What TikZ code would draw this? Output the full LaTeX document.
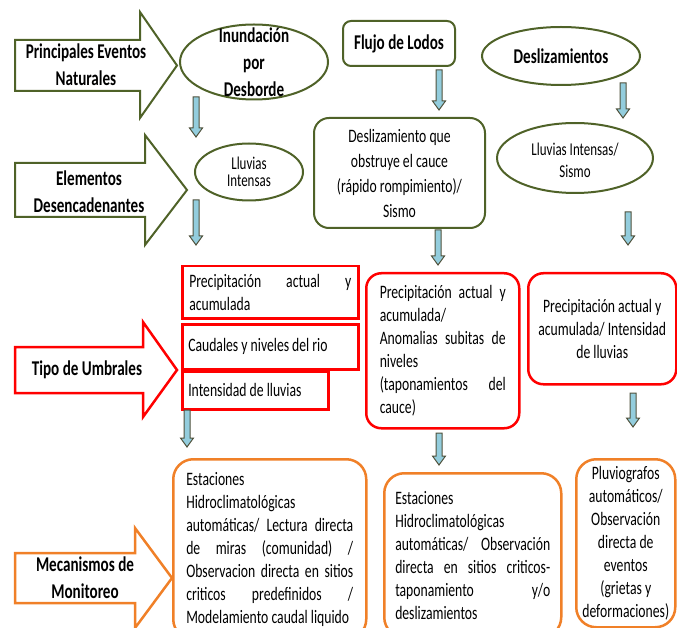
\documentclass[tikz,border=0pt]{standalone}
\usepackage{fontspec}
\setmainfont{Carlito}[FakeStretch=0.72]
\usetikzlibrary{shapes.geometric}
\usetikzlibrary{positioning}

\definecolor{oliva}{RGB}{79,98,40}
\definecolor{celeste}{RGB}{147,205,221}
\definecolor{naranja}{RGB}{240,128,40}
\definecolor{rojo}{RGB}{255,0,0}
\definecolor{bordeflecha}{RGB}{80,82,60}

\tikzset{
  evento/.style={draw=oliva, line width=2pt, ellipse, inner sep=0pt},
  caja/.style={draw=oliva, line width=2pt, rounded corners=#1, inner sep=0pt, align=flush center},
  umbral/.style={draw=rojo, line width=2.5pt, inner sep=0pt},
  umbralr/.style={draw=rojo, line width=2.5pt, rounded corners=15pt, inner sep=0pt},
  monitoreo/.style={draw=naranja, line width=2.5pt, rounded corners=20pt, inner sep=0pt},
  texto/.style={font=\fontsize{19}{23}\selectfont, inner sep=0pt},
  titulo/.style={font=\bfseries\fontsize{21}{27}\selectfont, align=flush center, inner sep=0pt},
  flecha/.style={draw=bordeflecha, fill=celeste, line width=1pt},
}

% flecha pequena hacia abajo: x, y arriba, y punta
\newcommand{\flechabaja}[3]{%
  \draw[flecha] (#1-3,#2) -- (#1+3,#2) -- (#1+3,#3-9) -- (#1+6.5,#3-9)
    -- (#1,#3) -- (#1-6.5,#3-9) -- (#1-3,#3-9) -- cycle;}

\begin{document}
\begin{tikzpicture}[x=1pt, y=-1pt]
	\clip (0,0) rectangle (677,628);

	% flechas grandes de la izquierda
	\draw[draw=oliva, line width=2pt] (15,40) -- (140,40) -- (140,12) -- (177,65.5) -- (140,118) -- (140,91) -- (15,91) -- cycle;
	\node[titulo] (eventos) at (86,65) {Principales Eventos\\Naturales};
	\draw[draw=oliva, line width=2pt] (15,163) -- (145,163) -- (145,135) -- (187,190) -- (145,245) -- (145,217) -- (15,217) -- cycle;
	\node[titulo] (elementos) at (89,192) {Elementos\\Desencadenantes};
	\draw[draw=rojo, line width=2.5pt] (15,347) -- (143,347) -- (143,322) -- (177,370) -- (143,417) -- (143,393) -- (15,393) -- cycle;
	\node[titulo] (umbrales) at (87,370) {Tipo de Umbrales};
	\draw[draw=naranja, line width=2.5pt] (15,553) -- (135,553) -- (135,528) -- (172,578) -- (135,628) -- (135,603) -- (15,603) -- cycle;
	\node[titulo] (mecanismos) at (85,578) {Mecanismos de\\Monitoreo};

	% eventos
	\node[evento, minimum width=148pt, minimum height=75pt] (inund) at (254,62) {};
	\node[titulo] (inundt) at (inund) {Inundación\\por\\Desborde};
	\node[caja=8pt, minimum width=112pt, minimum height=45pt, anchor=north west, font=\bfseries\fontsize{21}{27}\selectfont] (flujo) at (342,20) {Flujo de Lodos};
	\node[evento, minimum width=158pt, minimum height=58pt] (desliz) at (561,56) {};
	\node[titulo] (deslizt) at (desliz) {Deslizamientos};

	% desencadenantes
	\node[evento, minimum width=108pt, minimum height=57pt] (lluvias) at (249,172) {};
	\node[texto, font=\fontsize{18}{17}\selectfont, align=flush center] (lluviast) at (lluvias) {Lluvias\\Intensas};
	\node[caja=15pt, minimum width=171pt, minimum height=110pt, anchor=north west, font=\fontsize{19}{25}\selectfont] (obstruye) at (313,117) {Deslizamiento que\\obstruye el cauce\\(rápido rompimiento)/\\Sismo};
	\node[evento, minimum width=156pt, minimum height=70pt] (lluviasis) at (575,158) {};
	\node[texto, font=\fontsize{18}{22}\selectfont, align=flush center] (lluviasist) at (575,160) {Lluvias Intensas/\\Sismo};

	% umbrales
	\node[umbral, texto, minimum width=176pt, minimum height=52pt, text width=162pt, align=justify, anchor=north west] (precip) at (181,265) {Precipitación actual y\linebreak acumulada};
	\node[umbral, texto, minimum width=176pt, minimum height=45pt, text width=164pt, align=flush left, anchor=north west] (caudales) at (181,323) {Caudales y niveles del rio};
	\node[umbral, texto, minimum width=146pt, minimum height=38pt, text width=134pt, align=flush left, anchor=north west] (intensidad) at (181,370) {Intensidad de lluvias};
	\node[umbralr, texto, minimum width=153pt, minimum height=155pt, text width=126pt, align=justify, anchor=north west] (anomalias) at (365,272) {Precipitación actual y\linebreak acumulada/\\Anomalias subitas de\linebreak niveles\\(taponamientos del\linebreak cauce)};
	\node[umbralr, texto, minimum width=148pt, minimum height=111pt, text width=140pt, align=flush center, anchor=north west] (precipint) at (527,272) {Precipitación actual y\\acumulada/ Intensidad\\de lluvias};

	% mecanismos de monitoreo
	\node[monitoreo, texto, minimum width=193pt, minimum height=180pt, text width=167pt, align=justify, anchor=north west] (estaciones) at (172,458) {\parfillskip=0pt Estaciones\\Hidroclimatológicas\\automáticas/ Lectura directa\linebreak de miras (comunidad) /\linebreak Observacion directa en sitios\linebreak criticos predefinidos /\linebreak Modelamiento caudal liquido};
	\node[monitoreo, texto, minimum width=177pt, minimum height=164pt, text width=155pt, align=justify, anchor=north west] (estaciones2) at (383,472) {Estaciones\\Hidroclimatológicas\\automáticas/ Observación\linebreak directa en sitios criticos-\linebreak taponamiento y/o\linebreak deslizamientos};
	\node[monitoreo, texto, minimum width=99pt, minimum height=168pt, text width=95pt, align=flush center, anchor=north west] (pluvio) at (575,458) {Pluviografos\\automáticos/\\Observación\\directa de\\eventos\\(grietas y\\deformaciones)};

	% flechas pequenas
	\flechabaja{196}{97}{137}
	\flechabaja{196}{200}{245}
	\flechabaja{187}{410}{447}
	\flechabaja{439}{70}{110}
	\flechabaja{438}{230}{265}
	\flechabaja{439}{433}{465}
	\flechabaja{623}{83}{118}
	\flechabaja{628}{212}{245}
	\flechabaja{633}{393}{427}
\end{tikzpicture}
\end{document}
